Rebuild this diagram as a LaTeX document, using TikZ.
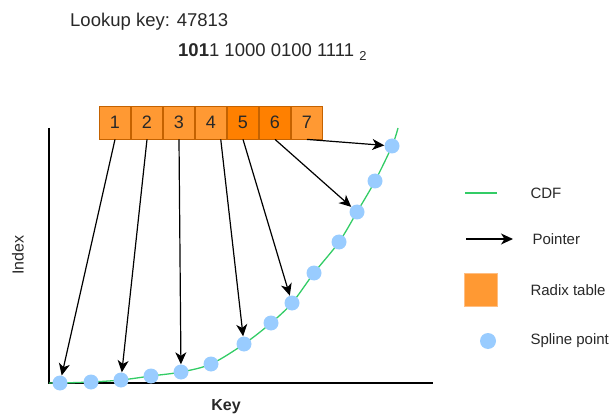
\documentclass[tikz,border=0pt]{standalone}
\usepackage{fontspec}
\setmainfont{Liberation Sans}
\usepackage{xcolor}
\definecolor{cdfgreen}{RGB}{51,204,102}
\definecolor{splineblue}{RGB}{153,204,255}
\definecolor{radixlight}{RGB}{255,153,51}
\definecolor{radixdark}{RGB}{255,128,0}
\definecolor{radixedge}{RGB}{196,98,0}
\definecolor{legendedge}{RGB}{255,190,130}
\definecolor{txtgrey}{RGB}{40,40,40}
\usetikzlibrary{arrows.meta,positioning}

\tikzset{
  radixcell/.style={draw=radixedge, line width=0.8pt, minimum width=31.2pt, minimum height=33pt, inner sep=0pt, font=\fontsize{18}{20}\selectfont, text=txtgrey},
  splinept/.style={circle, fill=splineblue, minimum size=15pt, inner sep=0pt},
  pointer/.style={draw=black, line width=1.2pt, -{Stealth[length=12pt,width=11pt,inset=3.5pt]}},
  cdfline/.style={draw=cdfgreen, line width=1.3pt},
  axisline/.style={draw=black, line width=1.3pt},
  legendtxt/.style={anchor=west, font=\fontsize{15}{17}\selectfont, text=txtgrey},
}

\begin{document}
\begin{tikzpicture}[x=1pt, y=-1pt]
  \useasboundingbox (0,0) rectangle (611,417);

  % lookup key and its binary form
  \node[anchor=west, font=\fontsize{18.5}{21}\selectfont, text=txtgrey, inner sep=0pt] (lookup) at (70,22) {Lookup key: 47813};
  \node[anchor=west, font=\fontsize{18.5}{21}\selectfont, text=txtgrey, inner sep=0pt] (binary) at (178,52) {\textbf{101}1 1000 0100 1111 \textsubscript{2}};

  % axes
  \coordinate (origin) at (49,383);
  \coordinate (ytop) at (49,128);
  \coordinate (xend) at (433,383);
  \draw[axisline] (ytop) -- (origin) -- (xend);
  \node[rotate=90, font=\fontsize{16}{18}\selectfont, text=txtgrey] (ylabel) at (18,255) {Index};
  \node[font=\bfseries\fontsize{16}{18}\selectfont, text=txtgrey] (xlabel) at (226,407) {Key};

  % CDF through the spline points
  \draw[cdfline] plot[smooth, tension=0.55] coordinates {(49,383) (60,383) (91,382) (121,380) (151,376) (181,372) (211,364) (244,344) (271,323) (292,303) (314,273) (339,242) (357,212) (375,181) (392,146) (398,128)};

  \node[splinept] (p1) at (60,383) {};
  \node[splinept] (p2) at (91,382) {};
  \node[splinept] (p3) at (121,380) {};
  \node[splinept] (p4) at (151,376) {};
  \node[splinept] (p5) at (181,372) {};
  \node[splinept] (p6) at (211,364) {};
  \node[splinept] (p7) at (244,344) {};
  \node[splinept] (p8) at (271,323) {};
  \node[splinept] (p9) at (292,303) {};
  \node[splinept] (p10) at (314,273) {};
  \node[splinept] (p11) at (339,242) {};
  \node[splinept] (p12) at (357,212) {};
  \node[splinept] (p13) at (375,181) {};
  \node[splinept] (p14) at (392,146) {};

  % radix table
  \node[radixcell, fill=radixlight] (c1) at (115,122.5) {1};
  \node[radixcell, fill=radixlight, right=0pt of c1] (c2) {2};
  \node[radixcell, fill=radixlight, right=0pt of c2] (c3) {3};
  \node[radixcell, fill=radixlight, right=0pt of c3] (c4) {4};
  \node[radixcell, fill=radixdark, right=0pt of c4] (c5) {5};
  \node[radixcell, fill=radixdark, right=0pt of c5] (c6) {6};
  \node[radixcell, fill=radixlight, right=0pt of c6] (c7) {7};

  % pointers into the spline
  \draw[pointer] (c1.south) -- (p1);
  \draw[pointer] (c2.south) -- (p3);
  \draw[pointer] (c3.south) -- (p5);
  \draw[pointer] (c4.-60) -- (p7);
  \draw[pointer] (c5.south) -- (p9);
  \draw[pointer] (c6.south) -- (p12);
  \draw[pointer] (c7.south) -- (p14);

  % legend
  \coordinate (cdfa) at (465,193);
  \coordinate (cdfb) at (497,193);
  \draw[cdfline] (cdfa) -- (cdfb);
  \node[legendtxt] (cdftxt) at (527,193) {CDF};

  \coordinate (ptra) at (466,239);
  \coordinate (ptrb) at (513,239);
  \draw[pointer] (ptra) -- (ptrb);
  \node[legendtxt] (ptrtxt) at (529,239) {Pointer};

  \node[draw=legendedge, fill=radixlight, minimum size=33pt, inner sep=0pt] (radixkey) at (480.5,290) {};
  \node[legendtxt] (radixtxt) at (527,290) {Radix table};

  \node[splinept, minimum size=16pt] (splinekey) at (488,341) {};
  \node[legendtxt] (splinetxt) at (527,341) {Spline point};
\end{tikzpicture}
\end{document}
